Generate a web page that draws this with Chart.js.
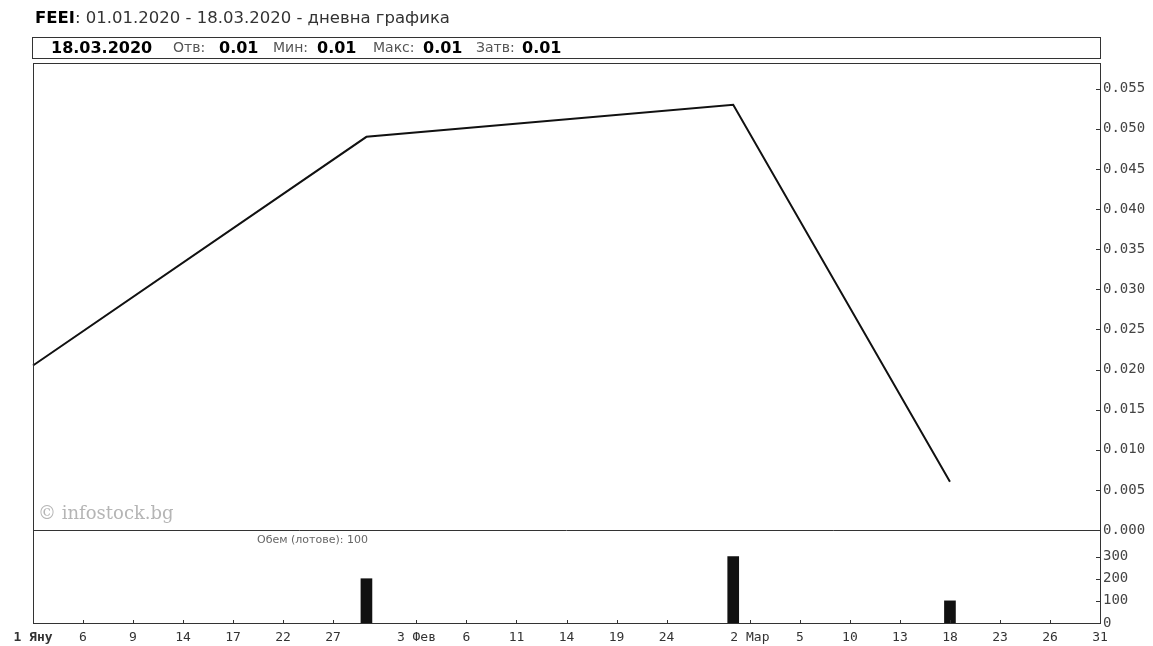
<!DOCTYPE html>
<html>
<head>
<meta charset="utf-8">
<script src="https://cdn.jsdelivr.net/npm/chart.js@4.4.0/dist/chart.umd.min.js"></script>
<style>
  body { margin: 0; background: #fff; }
  #wrap { position: relative; width: 1153px; height: 646px; }
  #title { position: absolute; left: 35px; top: 8px; font: 16.5px "DejaVu Sans"; color: #333; white-space: nowrap; }
  #title b { color: #000; }
  #hdr { position: absolute; left: 32px; top: 37px; width: 1067px; height: 20px; border: 1px solid #333; }
  #hdr span { position: absolute; top: 1px; font: 14px "DejaVu Sans"; color: #555; white-space: nowrap; }
  #hdr span.v { top: 0px; font: bold 16px "DejaVu Sans"; color: #000; }
</style>
</head>
<body>
<div id="wrap">
  <canvas id="myChart" width="1153" height="646"></canvas>
  <div id="title"><b>FEEI</b>: 01.01.2020 - 18.03.2020 - дневна графика</div>
  <div id="hdr"></div>
</div>
<script>
// trading days shown on the x axis (weekdays)
const janDays = [1, 2, 3, 6, 7, 8, 9, 10, 13, 14, 15, 16, 17, 20, 21, 22, 23, 24, 27, 28, 29, 30, 31];
const febDays = [3, 4, 5, 6, 7, 10, 11, 12, 13, 14, 17, 18, 19, 20, 21, 24, 25, 26, 27, 28];
const marDays = [2, 3, 4, 5, 6, 9, 10, 11, 12, 13, 16, 17, 18, 19, 20, 23, 24, 25, 26, 27, 30, 31];

const tickDates = ["01.01", "06.01", "09.01", "14.01", "17.01", "22.01", "27.01", "03.02", "06.02", "11.02",
  "14.02", "19.02", "24.02", "02.03", "05.03", "10.03", "13.03", "18.03", "23.03", "26.03", "31.03"];
const tickTexts = ["1 Яну", "6", "9", "14", "17", "22", "27", "3 Фев", "6", "11",
  "14", "19", "24", "2 Мар", "5", "10", "13", "18", "23", "26", "31"];
const monthStarts = ["01.01", "03.02", "02.03"];

const priceDates = ["01.01", "29.01", "28.02", "18.03"];
const priceValues = [0.0205, 0.049, 0.053, 0.006];

const volumeDates = ["29.01", "28.02", "18.03"];
const volumeValues = [200, 300, 100];

const priceTicks = [0, 0.005, 0.01, 0.015, 0.02, 0.025, 0.03, 0.035, 0.04, 0.045, 0.05, 0.055];
const volumeTicks = [0, 100, 200, 300];

const headerLabels = ["18.03.2020", "Отв:", "0.01", "Мин:", "0.01", "Макс:", "0.01", "Затв:", "0.01"];
const headerLeft = [18, 140, 186, 240, 284, 340, 390, 443, 489];

function pad(d) {
  return (d < 10 ? "0" : "") + d;
}
const dates = [
  ...janDays.map(d => pad(d) + ".01"),
  ...febDays.map(d => pad(d) + ".02"),
  ...marDays.map(d => pad(d) + ".03")
];

// header line
const hdr = document.getElementById("hdr");
headerLabels.forEach((t, i) => {
  const s = document.createElement("span");
  s.textContent = t;
  s.style.left = headerLeft[i] + "px";
  if (i % 2 == 0) s.className = "v";
  hdr.appendChild(s);
});

const framePlugin = {
  id: "frame",
  afterDraw(chart) {
    const c = chart.ctx;
    const a = chart.chartArea;
    const x = chart.scales.x;
    const y = chart.scales.y;
    const yv = chart.scales.yv;
    c.save();
    c.strokeStyle = "#333";
    c.lineWidth = 1;
    c.strokeRect(a.left + 0.5, a.top + 0.5, a.right - a.left, a.bottom - a.top);
    c.beginPath();
    c.moveTo(a.left, Math.round(y.bottom) + 0.5);
    c.lineTo(a.right, Math.round(y.bottom) + 0.5);
    c.stroke();
    // inner ticks
    c.beginPath();
    tickDates.forEach(d => {
      const px = Math.round(x.getPixelForValue(dates.indexOf(d))) + 0.5;
      c.moveTo(px, a.bottom);
      c.lineTo(px, a.bottom - 3);
    });
    [y, yv].forEach(s => {
      s.ticks.forEach(t => {
        const py = Math.round(s.getPixelForValue(t.value)) + 0.5;
        c.moveTo(a.right - 4, py);
        c.lineTo(a.right, py);
      });
    });
    c.stroke();
    // labels inside the chart
    c.fillStyle = "#b5b5b5";
    c.font = "18px 'DejaVu Serif'";
    c.textBaseline = "alphabetic";
    c.fillText("© infostock.bg", a.left + 5, y.bottom - 11);
    c.fillStyle = "#666";
    c.font = "11px 'DejaVu Sans'";
    c.fillText("Обем (лотове): 100", 257, y.bottom + 13);
    c.restore();
  }
};

const ctx = document.getElementById("myChart").getContext("2d");
new Chart(ctx, {
  type: "line",
  data: {
    labels: dates,
    datasets: [
      {
        type: "line",
        data: priceDates.map((d, i) => ({ x: d, y: priceValues[i] })),
        borderColor: "#111",
        borderWidth: 2,
        pointRadius: 0,
        tension: 0,
        yAxisID: "y"
      },
      {
        type: "bar",
        data: volumeDates.map((d, i) => ({ x: d, y: volumeValues[i] })),
        backgroundColor: "#111",
        barThickness: 11,
        yAxisID: "yv"
      }
    ]
  },
  options: {
    responsive: false,
    animation: false,
    layout: { padding: { left: 33, top: 63, right: 0, bottom: 0 } },
    plugins: { legend: { display: false }, tooltip: { enabled: false } },
    scales: {
      x: {
        type: "category",
        offset: false,
        grid: { display: false, drawTicks: false },
        border: { color: "#333" },
        ticks: {
          autoSkip: false,
          maxRotation: 0,
          padding: 7,
          color: "#333",
          font: c => ({
            family: "DejaVu Sans Mono",
            size: 13,
            weight: monthStarts.includes(dates[c.index]) ? "bold" : "normal"
          }),
          callback: function (value) {
            const k = tickDates.indexOf(this.getLabelForValue(value));
            return k < 0 ? null : tickTexts[k];
          }
        },
        afterFit: s => { s.height = 23; }
      },
      y: {
        position: "right",
        stack: "panels",
        stackWeight: 467,
        min: 0,
        max: 0.0582,
        grid: { display: false, drawTicks: false },
        border: { color: "#333" },
        ticks: {
          padding: 3,
          autoSkip: false,
          color: "#444",
          font: { family: "DejaVu Sans Mono", size: 14 },
          callback: v => v.toFixed(3)
        },
        afterBuildTicks: s => { s.ticks = priceTicks.map(v => ({ value: v })); },
        afterFit: s => { s.width = 53; }
      },
      yv: {
        position: "right",
        stack: "panels",
        stackWeight: 93,
        min: 0,
        max: 420,
        grid: { display: false, drawTicks: false },
        border: { color: "#333" },
        ticks: {
          padding: 3,
          autoSkip: false,
          color: "#444",
          font: { family: "DejaVu Sans Mono", size: 14 },
          callback: v => String(v)
        },
        afterBuildTicks: s => { s.ticks = volumeTicks.map(v => ({ value: v })); },
        afterFit: s => { s.width = 53; }
      }
    }
  },
  plugins: [framePlugin]
});
</script>
</body>
</html>
